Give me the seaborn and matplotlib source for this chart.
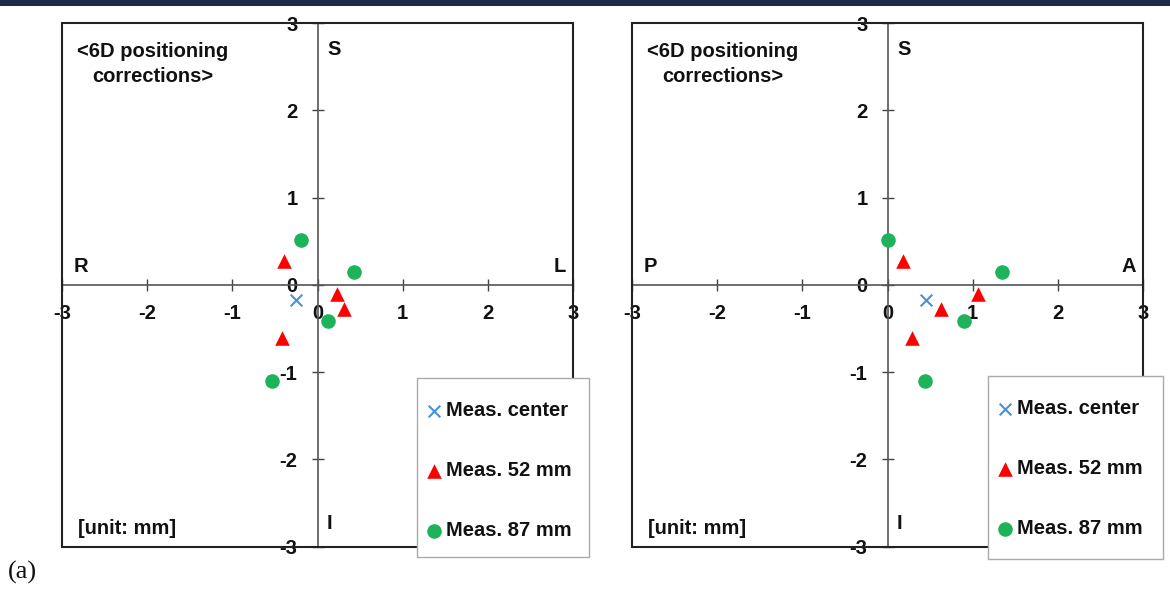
import matplotlib
matplotlib.use("Agg")
import matplotlib.pyplot as plt
from matplotlib.patches import Rectangle
import seaborn as sns
import pandas as pd
import numpy as np

sns.set_style("white")
plt.rcParams['font.family'] = ['Liberation Sans', 'DejaVu Sans']
plt.rcParams['font.weight'] = 'bold'
plt.rcParams['text.color'] = '#111111'
plt.rcParams['axes.unicode_minus'] = False

# vertical (S-I) values are shared by both panels
cross_y = [-0.17]
tri_y = [0.27, -0.11, -0.28, -0.61]
circ_y = [0.51, 0.15, -0.41, -1.10]

# R-L panel
cross_x_lr = [-0.25]
tri_x_lr = [-0.39, 0.23, 0.31, -0.42]
circ_x_lr = [-0.19, 0.43, 0.12, -0.53]

# P-A panel
cross_x_pa = [0.45]
tri_x_pa = [0.18, 1.06, 0.63, 0.29]
circ_x_pa = [0.0, 1.34, 0.90, 0.44]

labels = ['Meas. center', 'Meas. 52 mm', 'Meas. 87 mm']
ticks = [-3, -2, -1, 0, 1, 2, 3]
dir_labels = [('R', 'L'), ('P', 'A')]

colors = {'Meas. center': '#4a90d9', 'Meas. 52 mm': '#ff0000', 'Meas. 87 mm': '#1db35a'}

FS = 14.5

fig = plt.figure(figsize=(11.7, 5.92), dpi=100)
fig.patches.append(Rectangle((0, 1 - 6 / 592), 1, 6 / 592, transform=fig.transFigure,
                             facecolor='#1b2a4a', edgecolor='none', zorder=0))

panels = [
    (cross_x_lr, tri_x_lr, circ_x_lr),
    (cross_x_pa, tri_x_pa, circ_x_pa),
]
ax_left = [61.7 / 1170, 631.7 / 1170]
legend_box = [(417, 378, 589, 557), (988, 376, 1163, 559)]

for i, (cx, tx, gx) in enumerate(panels):
    ax = fig.add_axes([ax_left[i], 0.0765, 0.4373, 0.8846])
    df_c = pd.DataFrame({'x': cx, 'y': cross_y})
    df_t = pd.DataFrame({'x': tx, 'y': tri_y})
    df_g = pd.DataFrame({'x': gx, 'y': circ_y})
    sns.scatterplot(data=df_c, x='x', y='y', ax=ax, marker='x', color=colors[labels[0]],
                    s=70, linewidth=1.5, label=labels[0], zorder=4)
    sns.scatterplot(data=df_t, x='x', y='y', ax=ax, marker='^', color=colors[labels[1]],
                    s=110, linewidth=0, label=labels[1], zorder=4)
    sns.scatterplot(data=df_g, x='x', y='y', ax=ax, marker='o', color=colors[labels[2]],
                    s=110, linewidth=0, label=labels[2], zorder=4)
    handles, labs = ax.get_legend_handles_labels()
    ax.get_legend().remove()

    ax.set_xlim(-3, 3)
    ax.set_ylim(-3, 3)
    ax.set_xlabel('')
    ax.set_ylabel('')
    ax.set_xticks(ticks)
    ax.set_yticks(ticks)
    ax.spines['left'].set_position(('data', 0))
    ax.spines['bottom'].set_position(('data', 0))
    ax.spines['top'].set_visible(False)
    ax.spines['right'].set_visible(False)
    for sp in ['left', 'bottom']:
        ax.spines[sp].set_color('#555555')
        ax.spines[sp].set_linewidth(1.2)
    ax.tick_params(direction='inout', length=8, width=1, color='#444444',
                   left=True, bottom=True, labelcolor='#111111', labelsize=FS)
    ax.tick_params(axis='x', pad=9.5)
    ax.tick_params(axis='y', pad=10.5)
    for lab in ax.get_xticklabels() + ax.get_yticklabels():
        lab.set_fontweight('bold')
    ax.add_patch(Rectangle((0, 0), 1, 1, transform=ax.transAxes, fill=False,
                           edgecolor='#222222', linewidth=1.5, clip_on=False, zorder=3))

    ax.text(0.11, 2.70, 'S', fontsize=FS, fontweight='bold', va='center', ha='left')
    ax.text(0.11, -2.73, 'I', fontsize=FS, fontweight='bold', va='center', ha='left')
    ax.text(-2.86, 0.21, dir_labels[i][0], fontsize=FS, fontweight='bold', va='center', ha='left')
    ax.text(2.91, 0.21, dir_labels[i][1], fontsize=FS, fontweight='bold', va='center', ha='right')
    ax.text(-1.93, 2.53, '<6D positioning\ncorrections>', fontsize=FS, fontweight='bold',
            va='center', ha='center', multialignment='center', linespacing=1.45)
    ax.text(-2.81, -2.79, '[unit: mm]', fontsize=FS, fontweight='bold', va='center', ha='left')

    x0, y0, x1, y1 = legend_box[i]
    fig.patches.append(Rectangle((x0 / 1170, 1 - y1 / 592), (x1 - x0) / 1170, (y1 - y0) / 592,
                                 transform=fig.transFigure, facecolor='white',
                                 edgecolor='#aaaaaa', linewidth=1, zorder=5))
    leg = fig.legend(handles, labs, loc='upper left',
                     bbox_to_anchor=((x0 - 1) / 1170, 1 - (y0 + 13) / 592),
                     frameon=False, prop={'weight': 'bold', 'size': FS},
                     handlelength=0.8, handletextpad=0.2, labelspacing=2.03, borderpad=0)
    leg.set_zorder(6)

fig.text(8 / 1170, 1 - 572 / 592, '(a)', fontsize=19, family='Liberation Serif',
         fontweight='normal', va='center', ha='left')

fig.savefig('out.png', dpi=100)
